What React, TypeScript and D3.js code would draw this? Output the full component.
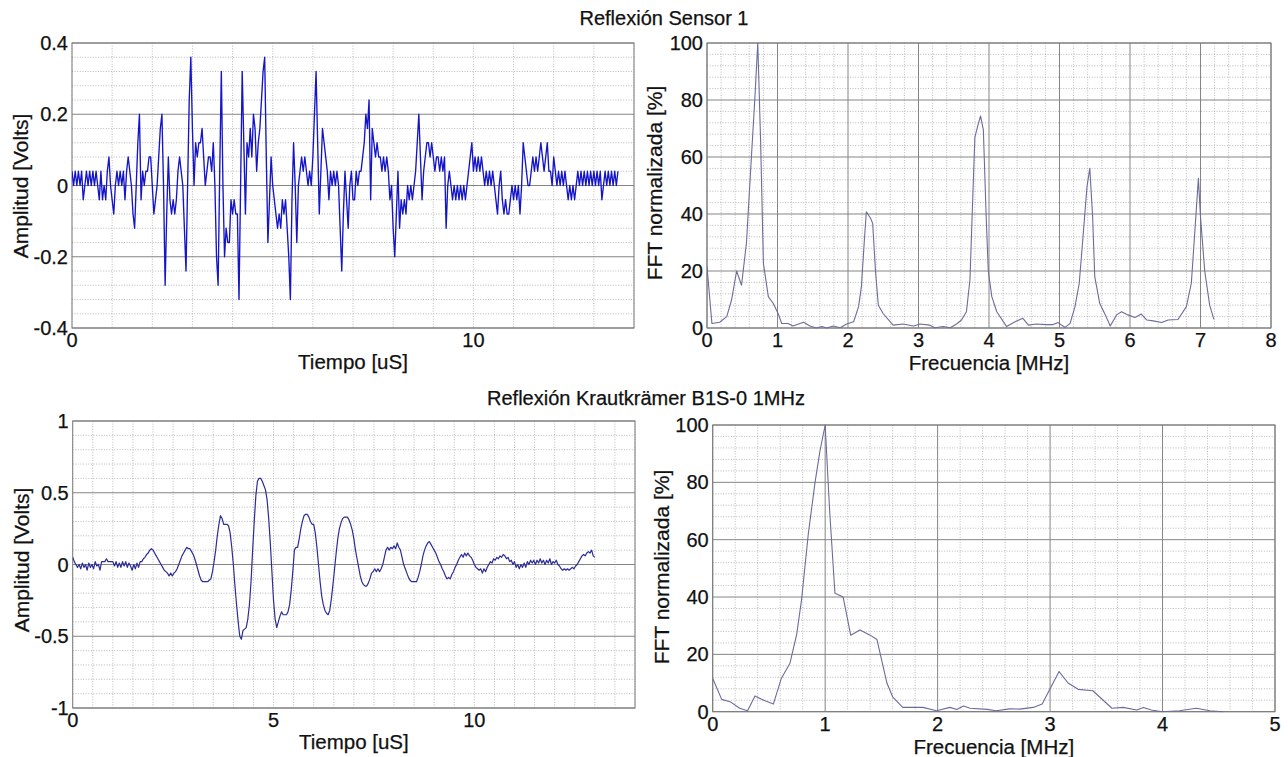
import React from 'react';
import * as d3 from 'd3';

const W = 1288;
const H = 757;
const FONT = '"Liberation Sans", Arial, Helvetica, sans-serif';

// ---------- DATA ----------
// Top-left: Reflexión Sensor 1, quantised amplitude in steps of 0.04 V, one sample every 0.04 µs
const sensorStepV = 0.04;
const sensorDt = 0.04;
const sensorLevels = [
  1, 0, 1, 0, 1, 0, 1,
  -1,
  0, 1, 0, 1, 0, 1, 0, 1, 0,
  -1, 1, -1, 0, -1, 1, 2, 0, -1,
  -2,
  0,
  1, 0, 1, 0, 1,
  -1, 1, 2, 1, 0,
  -2, -3, 0, 3, 5, -1, 1, 0, 1, 1, 2, 2,
  0, -2, -1, 0, 2, 4, 5, 0, -7, -2,
  2, -1, -2, -1, -2, -1, 1, 2, 1, 0,
  -3, -6, 0, 6, 9, 4, 0, 3, 2, 3,
  3, 4, 2, 0, 1, 2, 2, 1, 3, 0,
  -5, -7, 1, 8, 0, -5, -3, -4, -4, -1,
  -2, -1, -2, -2, -8, 0, 8, 3, -2, 3,
  2, 4, 2, 5, 4, 1, 3, 4, 6, 8,
  9, 2, -4, -1, 2, 0, -1, -2, -3, -2,
  -3, -1, -2, -1, -3, -5, -8, -1, 3, 0,
  -4, 0, 1, 2, 1, 2, 1, 0, 1, 0,
  2, 5, 8, 3, -2, 1, 4, 3, 2, 1,
  -1, 1, 0, 1, 0, 1, 0, -3, -6, -2,
  1, -1, -3, 0, 1, -1, -1, 1, 0, 1,
  1, 2, 3, 5, 4, 6, -1, 4, 3, 2,
  3, 2, 2, 1, 2, 1, 2, 1, -1, 0,
  -3, -5, -2, 1, -3, -1, -2, -1, -2, 0,
  -1, 0, -1, 0, 1, 3, 5, 2, -1, 1,
  2, 3, 3, 2, 3, 2, 1, 2, 2, 1,
  2, 1, 2, -3, 0, 1, 0, -1, 0, -1,
  0, -1, 0, -1, 0, -1, 0, 1, 2, 3,
  1, 2, 1, 2, 1, 2, 1, 0, 1, 0,
  1, 0, 1, 0, -1, -2, 0, 1, -1, -2,
  -1, -2, -2, -1, 0, -1, 0, -1, 0, -2,
  0, 3, 2, 1, 0, 0, 1, 2, 1, 2,
  1, 2, 3, 2, 1, 2, 3, 1, 1, 0,
  2, 1, 0, 1, 0, 1, 0, 1, 0, -1,
  0, -1, 0, -1, 0, 1, 0, 1, 0, 1,
  0, 1, 0, 1, 0, 1, 0, 1, 0, 1,
  -1, 0, 1, 0, 1, 0, 1, 0, 1, 0, 1,
];

// Top-right: FFT of sensor 1 [MHz, %]
const sensorFft: [number, number][] = [
  [0, 21.5], [0.07, 1.6], [0.18, 2], [0.28, 4], [0.35, 10], [0.42, 20], [0.49, 15], [0.56, 30],
  [0.63, 60], [0.68, 81], [0.72, 100], [0.76, 66], [0.8, 22.7], [0.87, 11], [0.94, 8.6], [1.01, 5],
  [1.06, 1.6], [1.15, 1.6], [1.22, 0.7], [1.37, 2], [1.46, 0.7], [1.55, 0], [1.63, 0.5], [1.7, 0],
  [1.79, 0.7], [1.89, 0.1], [1.98, 1.4], [2.08, 2.2], [2.15, 7.5], [2.19, 14.5], [2.23, 30], [2.26, 40.8],
  [2.32, 38.5], [2.35, 36.7], [2.39, 20], [2.43, 8], [2.5, 5], [2.64, 1], [2.78, 1.4], [2.93, 0.7],
  [3.02, 1.4], [3.16, 1], [3.23, 0.1], [3.35, 0.5], [3.45, 0.1], [3.54, 1.4], [3.61, 2.8], [3.68, 5.7],
  [3.73, 17], [3.77, 46], [3.8, 67], [3.85, 71.8], [3.88, 74.4], [3.92, 69.5], [3.96, 39], [3.99, 20],
  [4.04, 11], [4.11, 5.7], [4.25, 0.5], [4.37, 2.2], [4.48, 3.4], [4.56, 1], [4.67, 1.4], [4.81, 1.2],
  [4.91, 1.2], [4.98, 1.9], [5.08, 0.2], [5.15, 1.6], [5.22, 7.5], [5.28, 15.7], [5.34, 34], [5.39, 49.6],
  [5.43, 56], [5.47, 39], [5.5, 18], [5.57, 8.7], [5.65, 4.6], [5.72, 0.7], [5.81, 4.6], [5.88, 5.7],
  [5.97, 4.6], [6.07, 3.7], [6.16, 4.9], [6.24, 2.8], [6.33, 2.5], [6.45, 1.9], [6.54, 2.8], [6.68, 3],
  [6.8, 7.5], [6.87, 15.7], [6.92, 34], [6.97, 52.5], [7.0, 39], [7.06, 20], [7.13, 8], [7.19, 3],
];

// Bottom-left: Reflexión Krautkrämer, amplitude in hundredths of a volt, one sample every 0.04 µs
const kbDt = 0.04;
const kbHundredths = [
  5, 2, 0, -2, 0, -3, 1, -2, 0, -4, 1, -2, 0, -3, 2, -1, 0, -4,
  2, 2, 2, 4, 2, 2, 2,
  2, -1, 2, -2, 1, -2, 2, -1, 2, -2, 1, -1,
  -4, 0, -3, 1, -2, 2,
  2, 4, 5, 7, 8, 10, 11,
  10, 8, 6,
  4, 2, 0, -2, -4, -5,
  -6, -8, -6, -8, -6, -5,
  -3, 0, 3, 6, 8, 10, 12, 11,
  11, 9, 7,
  4, 0, -4, -8, -11,
  -12, -12, -12, -12, -11, -10,
  -5, 2, 10, 20, 28, 34,
  32, 28, 28, 28, 27,
  22, 12, 0, -15, -28, -40, -50, -52, -46, -45, -44, -38, -28, -12,
  10, 30, 48, 58, 60, 60, 58, 55, 52, 45, 32, 15, -5, -25,
  -38, -44, -40, -36, -33, -35, -35, -35, -33, -28, -18, -5,
  10, 12, 12, 18, 25, 30, 34, 35, 35, 33, 30, 28,
  28, 22, 12, 0, -12, -22, -28, -32, -34, -35, -32, -24, -14, -3, 8, 18, 25, 29, 32, 33, 33, 33,
  31, 28, 24, 18, 10, 4, -2, -8, -12,
  -14, -15, -15, -13, -10, -6, -5, -3, -5, -3, -5, -3,
  0, 5, 10, 12, 10, 12, 11, 13, 11, 15, 12, 10, 5,
  0, -3, -6, -9, -11, -12, -12, -12, -12, -9, -5, 0,
  6, 10, 13, 15, 16, 14, 12, 10, 8, 5, 2, 0,
  -3, -5, -8, -10, -9, -10, -7, -5, -2, 0, 3, 5,
  7, 5, 8, 6, 8, 6, 5, 3, 0, -2, -3, -4,
  -3, -6, -3, -5, -2, 0, 2, 1, 4, 3, 5, 4,
  6, 5, 7, 6, 4, 5, 2, 3, 0, 2, -2, 0,
  -3, 0, -2, 1, -2, 2, 0, 3, 1, 3, 0, 3,
  1, 4, 1, 3, 0, 3, 1, 4, 0, 2, 1, 3,
  0, -1, -3, -4, -3, -4, -3, -4, -3, -2, -3, -1,
  0, 2, 4, 6, 7, 6, 8, 9, 8, 10, 6, 5,
];

// Bottom-right: FFT of Krautkrämer probe [MHz, %]
const kbFft: [number, number][] = [
  [0, 11.6], [0.08, 4.3], [0.154, 3.5], [0.24, 1.2], [0.31, 0.35], [0.376, 5.5], [0.465, 3.8], [0.54, 2.7],
  [0.61, 11.6], [0.687, 16.9], [0.747, 27], [0.79, 39], [0.85, 62], [0.91, 80], [0.954, 91], [1.0, 100],
  [1.04, 70], [1.087, 41.3], [1.16, 40], [1.227, 26.7], [1.31, 28.5], [1.4, 26.7], [1.46, 25.2], [1.55, 9.9],
  [1.6, 5.2], [1.69, 1.5], [1.87, 1.5], [1.99, 0.35], [2.11, 1.5], [2.17, 0.8], [2.23, 2], [2.29, 1.2],
  [2.44, 0.8], [2.52, 0.35], [2.64, 1], [2.73, 0.9], [2.85, 1.5], [2.93, 2.7], [3.0, 8], [3.08, 14],
  [3.16, 10], [3.25, 7.8], [3.38, 7.3], [3.55, 1.2], [3.65, 1.5], [3.77, 0.6], [3.83, 1.5], [3.9, 0.6],
  [4.0, 0], [4.15, 0.35], [4.3, 1.2], [4.42, 0.35], [4.54, 0],
];

// Titles, labels, ticks
const titleTop = 'Reflexión Sensor 1';
const titleBottom = 'Reflexión Krautkrämer B1S-0 1MHz';
const labelTime = 'Tiempo [uS]';
const labelFreq = 'Frecuencia [MHz]';
const labelAmp = 'Amplitud [Volts]';
const labelFft = 'FFT normalizada [%]';

const ticksTimeTopX = [0, 10];
const ticksTimeTopY = [-0.4, -0.2, 0, 0.2, 0.4];
const ticksTimeBotX = [0, 5, 10];
const ticksTimeBotY = [-1, -0.5, 0, 0.5, 1];
const ticksFftTopX = [0, 1, 2, 3, 4, 5, 6, 7, 8];
const ticksFftBotX = [0, 1, 2, 3, 4, 5];
const ticksFftY = [0, 20, 40, 60, 80, 100];

// ---------- Panel ----------
type PanelProps = {
  id: string;
  left: number; right: number; top: number; bottom: number;
  xDomain: [number, number]; yDomain: [number, number];
  xTicks: number[]; yTicks: number[];
  xMinorStep: number; yMinorStep: number;
  verticalMajorSolid: boolean;
  data: [number, number][];
  color: string; strokeWidth: number;
  xLabel: string; yLabel: string;
  xLabelBaseline: number; yLabelX: number; yLabelY: number;
};

const fmt = (v: number) => String(+v.toFixed(3));

function steps(a: number, b: number, step: number) {
  const n = Math.round((b - a) / step);
  return d3.range(0, n + 1).map((i) => +(a + i * step).toFixed(6));
}

const textStyle = {
  fontFamily: FONT,
  fill: '#111',
  stroke: '#111',
  strokeWidth: 0.25,
};

function Panel(p: PanelProps) {
  const x = d3.scaleLinear().domain(p.xDomain).range([p.left, p.right]);
  const y = d3.scaleLinear().domain(p.yDomain).range([p.bottom, p.top]);
  const line = d3
    .line<[number, number]>()
    .x((d) => x(d[0]))
    .y((d) => y(d[1]));

  const isMajor = (v: number, ticks: number[]) => ticks.some((t) => Math.abs(t - v) < 1e-6);
  const xMinor = steps(p.xDomain[0], p.xDomain[1], p.xMinorStep);
  const yMinor = steps(p.yDomain[0], p.yDomain[1], p.yMinorStep);

  const minorStyle = { stroke: '#a9a9a9', strokeWidth: 0.8, strokeDasharray: '1 1.6' };
  const majorStyle = { stroke: '#858585', strokeWidth: 1 };

  return (
    <g>
      <defs>
        <clipPath id={`clip-${p.id}`}>
          <rect x={p.left} y={p.top - 1} width={p.right - p.left} height={p.bottom - p.top + 2} />
        </clipPath>
      </defs>
      {/* minor grid */}
      {xMinor
        .filter((v) => !(p.verticalMajorSolid && isMajor(v, p.xTicks)))
        .map((v, i) => (
          <line key={`xm${i}`} x1={x(v)} x2={x(v)} y1={p.top} y2={p.bottom} {...minorStyle} />
        ))}
      {yMinor
        .filter((v) => !isMajor(v, p.yTicks))
        .map((v, i) => (
          <line key={`ym${i}`} x1={p.left} x2={p.right} y1={y(v)} y2={y(v)} {...minorStyle} />
        ))}
      {/* major grid */}
      {p.verticalMajorSolid &&
        p.xTicks.map((v, i) => (
          <line key={`xM${i}`} x1={x(v)} x2={x(v)} y1={p.top} y2={p.bottom} {...majorStyle} />
        ))}
      {p.yTicks.map((v, i) => (
        <line key={`yM${i}`} x1={p.left} x2={p.right} y1={y(v)} y2={y(v)} {...majorStyle} />
      ))}
      {/* frame */}
      <rect
        x={p.left}
        y={p.top}
        width={p.right - p.left}
        height={p.bottom - p.top}
        fill="none"
        stroke="#7a7a7a"
        strokeWidth={1}
      />
      {/* data */}
      <path
        d={line(p.data) || ''}
        fill="none"
        stroke={p.color}
        strokeWidth={p.strokeWidth}
        strokeLinejoin="round"
        clipPath={`url(#clip-${p.id})`}
      />
      {/* tick labels */}
      {p.xTicks.map((v, i) => (
        <text key={`xt${i}`} x={x(v)} y={p.bottom + 19} textAnchor="middle" fontSize={20} {...textStyle}>
          {fmt(v)}
        </text>
      ))}
      {p.yTicks.map((v, i) => (
        <text key={`yt${i}`} x={p.left - 4} y={y(v) + 7} textAnchor="end" fontSize={20} {...textStyle}>
          {fmt(v)}
        </text>
      ))}
      {/* axis labels */}
      <text x={(p.left + p.right) / 2} y={p.xLabelBaseline} textAnchor="middle" fontSize={20.5} {...textStyle}>
        {p.xLabel}
      </text>
      <text
        transform={`translate(${p.yLabelX},${p.yLabelY}) rotate(-90)`}
        textAnchor="middle"
        fontSize={21}
        {...textStyle}
      >
        {p.yLabel}
      </text>
    </g>
  );
}

export default function App() {
  const sensorData: [number, number][] = sensorLevels.map((l, i) => [i * sensorDt, l * sensorStepV]);
  const kbData: [number, number][] = kbHundredths.map((v, i) => [i * kbDt, v / 100]);

  return (
    <svg
      width={W}
      height={H}
      viewBox={`0 0 ${W} ${H}`}
      style={{ position: 'absolute', left: 0, top: 0, background: '#fff' }}
    >
      <rect x={0} y={0} width={W} height={H} fill="#fff" />
      <text x={664} y={25} textAnchor="middle" fontSize={20} {...textStyle}>
        {titleTop}
      </text>
      <text x={646} y={405} textAnchor="middle" fontSize={20} {...textStyle}>
        {titleBottom}
      </text>

      <Panel
        id="tl"
        left={72} right={634} top={43} bottom={328}
        xDomain={[0, 14]} yDomain={[-0.4, 0.4]}
        xTicks={ticksTimeTopX} yTicks={ticksTimeTopY}
        xMinorStep={1} yMinorStep={0.04}
        verticalMajorSolid={false}
        data={sensorData}
        color="#1414c8" strokeWidth={1.35}
        xLabel={labelTime} yLabel={labelAmp}
        xLabelBaseline={369} yLabelX={28} yLabelY={186}
      />
      <Panel
        id="tr"
        left={707} right={1271} top={43} bottom={328}
        xDomain={[0, 8]} yDomain={[0, 100]}
        xTicks={ticksFftTopX} yTicks={ticksFftY}
        xMinorStep={0.2} yMinorStep={4}
        verticalMajorSolid={true}
        data={sensorFft}
        color="#6c6c9c" strokeWidth={1.1}
        xLabel={labelFreq} yLabel={labelFft}
        xLabelBaseline={370} yLabelX={662} yLabelY={183}
      />
      <Panel
        id="bl"
        left={72.7} right={635} top={421} bottom={708}
        xDomain={[0, 14]} yDomain={[-1, 1]}
        xTicks={ticksTimeBotX} yTicks={ticksTimeBotY}
        xMinorStep={0.5} yMinorStep={0.1}
        verticalMajorSolid={false}
        data={kbData}
        color="#2c2c96" strokeWidth={1.2}
        xLabel={labelTime} yLabel={labelAmp}
        xLabelBaseline={749} yLabelX={29} yLabelY={560}
      />
      <Panel
        id="br"
        left={712.7} right={1275} top={425} bottom={711.7}
        xDomain={[0, 5]} yDomain={[0, 100]}
        xTicks={ticksFftBotX} yTicks={ticksFftY}
        xMinorStep={0.2} yMinorStep={4}
        verticalMajorSolid={true}
        data={kbFft}
        color="#6c6c9c" strokeWidth={1.1}
        xLabel={labelFreq} yLabel={labelFft}
        xLabelBaseline={754} yLabelX={669} yLabelY={567}
      />
    </svg>
  );
}
